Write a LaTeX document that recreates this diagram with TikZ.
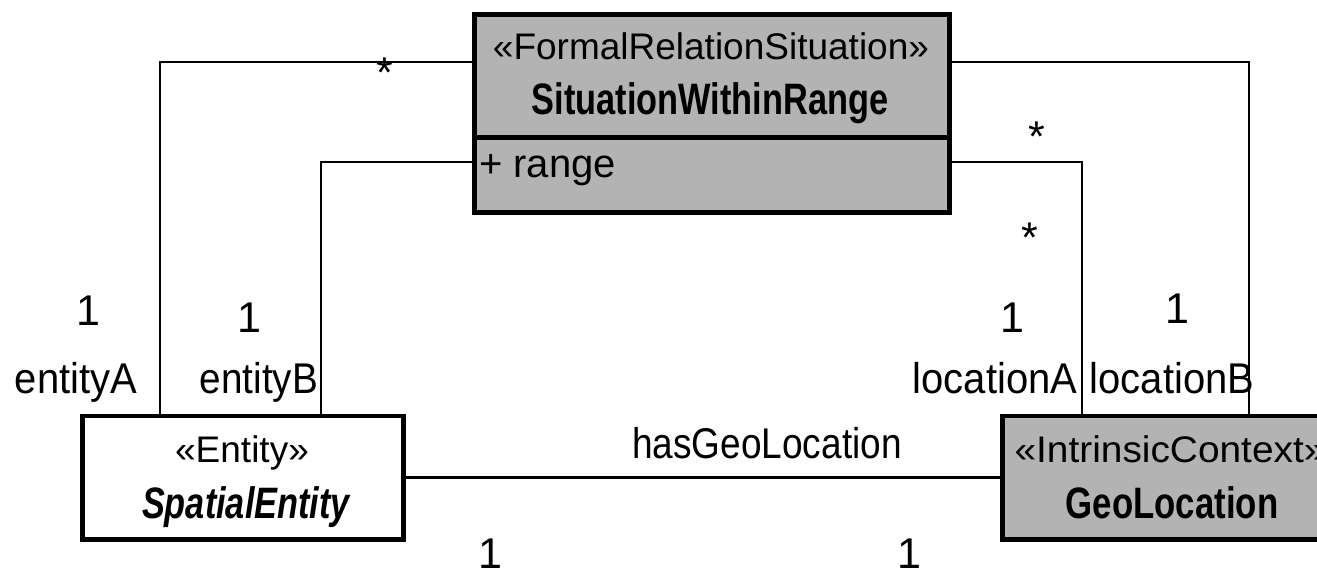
\documentclass[tikz,border=0pt]{standalone}
\usepackage{graphicx}
\usepackage{fontspec}
\setmainfont{Liberation Sans}
\definecolor{classgray}{RGB}{179,179,179}
% horizontally squeezed text
\newcommand{\squeeze}[2]{\scalebox{#1}[1]{#2}}
\begin{document}
\begin{tikzpicture}[x=1pt,y=-1pt,
  classbox/.style={draw=black, line width=4.5pt, inner sep=0pt, anchor=north west},
  wire/.style={line width=2.2pt},
  lbl/.style={inner sep=0pt, anchor=base, font=\fontsize{43}{50}\selectfont},
  ster/.style={inner sep=0pt, anchor=base, font=\fontsize{37}{44}\selectfont},
  cname/.style={inner sep=0pt, anchor=base, font=\fontsize{44}{50}\selectfont\bfseries},
]
\clip (0,0) rectangle (1317,572);
\fill[white] (0,0) rectangle (1317,572);

% classes
\node[classbox, fill=classgray, minimum width=475pt, minimum height=198pt] (sit) at (472,12.5) {};
\draw[line width=4.5pt] (sit.west |- 0,137.5) -- (sit.east |- 0,137.5);
\node[classbox, fill=white, minimum width=321pt, minimum height=123.5pt] (ent) at (80,413.5) {};
\node[classbox, fill=classgray, minimum width=344pt, minimum height=123.5pt] (geo) at (1000,413.5) {};

% class texts
\node[ster] (sitster) at (711,60) {«FormalRelationSituation»};
\node[cname] (sitname) at (710,115) {\squeeze{0.78}{SituationWithinRange}};
\node[lbl, anchor=base west, font=\fontsize{40}{46}\selectfont] (sitattr) at (479,178) {+ range};
\node[ster] (entster) at (242,462) {«Entity»};
\node[cname] (entname) at (246,518) {\squeeze{0.78}{\itshape SpatialEntity}};
\node[ster] (geoster) at (1170,462) {\squeeze{1.05}{«IntrinsicContext»}};
\node[cname] (geoname) at (1172,518) {\squeeze{0.79}{GeoLocation}};

% associations
\draw[wire] (sit.west |- 0,62) -| (ent.north -| 160,0);
\draw[wire] (sit.west |- 0,162) -| (ent.north -| 321,0);
\draw[wire] (sit.east |- 0,62) -| (geo.north -| 1249,0);
\draw[wire] (sit.east |- 0,162) -| (geo.north -| 1082,0);
\draw[wire] (ent.east) -- (geo.west);

% multiplicities and role names
\node[lbl] (m1) at (385,88) {*};
\node[lbl] (m2) at (1037,152) {*};
\node[lbl] (m3) at (1030,252) {*};
\node[lbl] (m4) at (88,325) {1};
\node[lbl] (m5) at (249,332) {1};
\node[lbl] (m6) at (1012,332) {1};
\node[lbl] (m7) at (1177,323) {1};
\node[lbl] (m8) at (490,568) {1};
\node[lbl] (m9) at (909,568) {1};
\node[lbl] (r1) at (76,393) {\squeeze{0.93}{entityA}};
\node[lbl] (r2) at (259,393) {\squeeze{0.9}{entityB}};
\node[lbl] (r3) at (995,393) {\squeeze{0.93}{locationA}};
\node[lbl] (r4) at (1172,393) {\squeeze{0.93}{locationB}};
\node[lbl] (assoc) at (767,458) {\squeeze{0.86}{hasGeoLocation}};
\end{tikzpicture}
\end{document}
